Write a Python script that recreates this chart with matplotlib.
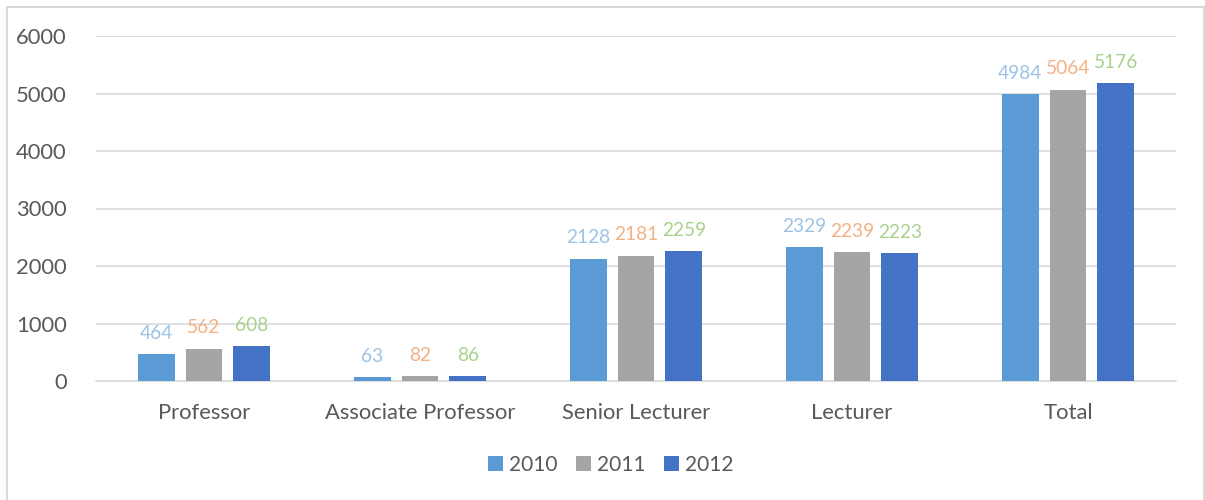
import matplotlib
matplotlib.use("Agg")
import matplotlib.pyplot as plt
import numpy as np
from matplotlib.patches import Rectangle

categories = ["Professor", "Associate Professor", "Senior Lecturer", "Lecturer", "Total"]
years = ["2010", "2011", "2012"]
v2010 = [464, 63, 2128, 2329, 4984]
v2011 = [562, 82, 2181, 2239, 5064]
v2012 = [608, 86, 2259, 2223, 5176]
yticks = [0, 1000, 2000, 3000, 4000, 5000, 6000]

series = [v2010, v2011, v2012]
bar_colors = ["#5B9BD5", "#A5A5A5", "#4472C4"]
label_colors = ["#9DC3E6", "#F4B183", "#A9D18E"]
text_color = "#595959"

plt.rcParams['font.family'] = ['Lato', 'DejaVu Sans']
fs = 15.8

fig = plt.figure(figsize=(12.05, 5.0), dpi=100)
ax = fig.add_axes([96/1205, 1-381/500, 1080/1205, 345/500])

x = np.arange(len(categories))
width = 0.171
step = 0.222
for i, (vals, bc, lc, yr) in enumerate(zip(series, bar_colors, label_colors, years)):
    pos = x + (i - 1) * step
    bars = ax.bar(pos, vals, width=width, color=bc, label=yr, zorder=3)
    for b, v in zip(bars, vals):
        ax.annotate(str(v), (b.get_x() + b.get_width()/2, v), xytext=(0, 9),
                    textcoords="offset points", ha="center", va="bottom",
                    color=lc, fontsize=13.8)

ax.set_xlim(-0.5, len(categories) - 0.5)
ax.set_ylim(0, 6000)
ax.set_yticks(yticks)
ax.set_yticklabels([str(t) for t in yticks])
ax.set_xticks(x)
ax.set_xticklabels(categories)
ax.grid(axis="y", color="#D9D9D9", linewidth=1.2, zorder=0)
ax.set_axisbelow(True)
for s in ["top", "right", "left"]:
    ax.spines[s].set_visible(False)
ax.spines["bottom"].set_color("#D9D9D9")
ax.spines["bottom"].set_linewidth(1.2)
ax.tick_params(axis="both", length=0, colors=text_color, labelsize=fs)
ax.tick_params(axis="y", pad=21)
ax.tick_params(axis="x", pad=16)

leg = fig.legend(loc="center", bbox_to_anchor=(611/1205, 1-465/500), ncol=3,
                 frameon=False, fontsize=15, handlelength=0.7, handleheight=0.7,
                 handletextpad=0.3, columnspacing=0.9)
for t in leg.get_texts():
    t.set_color(text_color)

fig.patches.append(Rectangle((7.5/1205, -0.1), (1204-7.5)/1205, 1.1 - 7.5/500,
                             transform=fig.transFigure, fill=False,
                             edgecolor="#D9D9D9", linewidth=1.5))

fig.savefig("out.png", dpi=100)
